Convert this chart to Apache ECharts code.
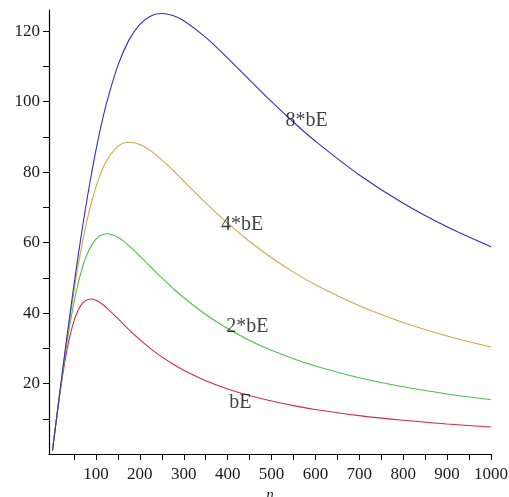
<!DOCTYPE html>
<html>
<head>
<meta charset="utf-8">
<script src="https://cdn.jsdelivr.net/npm/echarts@6/dist/echarts.min.js"></script>
<style>
  html, body { margin: 0; padding: 0; background: #fff; }
  #chart { width: 509px; height: 497px; }
</style>
</head>
<body>
<div id="chart"></div>
<script>
// Sample points along n
const nValues = [1, 10, 20, 30, 40, 50, 60, 70, 80, 90, 100, 110, 125, 150, 175, 200, 225, 250, 275, 300, 350, 400, 450, 500, 550, 600, 700, 800, 900, 1000];

// Curve values at each n
const bE   = [1, 9.87, 19.02, 26.88, 33.15, 37.80, 40.96, 42.87, 43.80, 43.99, 43.64, 42.93, 41.42, 38.41, 35.32, 32.44, 29.85, 27.56, 25.54, 23.77, 20.81, 18.47, 16.58, 15.02, 13.73, 12.63, 10.89, 9.56, 8.52, 7.68];
const bE2  = [1, 9.94, 19.50, 28.37, 36.28, 43.10, 48.77, 53.29, 56.75, 59.27, 60.98, 61.99, 62.50, 61.48, 59.12, 56.18, 53.07, 50.00, 47.09, 44.38, 39.59, 35.59, 32.23, 29.41, 27.01, 24.96, 21.63, 19.07, 17.03, 15.38];
const bE4  = [1, 9.97, 19.75, 29.16, 38.06, 46.30, 53.82, 60.53, 66.43, 71.51, 75.81, 79.35, 83.40, 87.30, 88.49, 87.84, 86.01, 83.47, 80.55, 77.46, 71.28, 65.50, 60.29, 55.68, 51.61, 48.04, 42.07, 37.33, 33.51, 30.38];
const bE8  = [1, 9.98, 19.87, 29.57, 39.00, 48.08, 56.73, 64.91, 72.57, 79.68, 86.21, 92.16, 100.00, 110.29, 117.45, 121.95, 124.31, 125.00, 124.43, 122.95, 118.24, 112.36, 106.13, 100.00, 94.18, 88.76, 79.19, 71.17, 64.47, 58.82];

// Curve names and where each name sits
const curveNames = ['bE', '2*bE', '4*bE', '8*bE'];
const labelAt = [[429, 14.5], [445, 36], [433, 65], [580, 94.6]];

// Axis tick marks and labels
const xTicks = [50, 100, 150, 200, 250, 300, 350, 400, 450, 500, 550, 600, 650, 700, 750, 800, 850, 900, 950, 1000];
const xLabels = [100, 200, 300, 400, 500, 600, 700, 800, 900, 1000];
const yTicks = [10, 20, 30, 40, 50, 60, 70, 80, 90, 100, 110, 120];
const yLabels = [20, 40, 60, 80, 100, 120];

const colors = ['#d42a44', '#4cc04c', '#cfa94a', '#2f2fc4'];
const seriesData = [bE, bE2, bE4, bE8];

const pair = arr => nValues.map((n, i) => [n, arr[i]]);
const serif = '"Liberation Serif", "DejaVu Serif", serif';

const chart = echarts.init(document.getElementById('chart'));

const series = seriesData.map((arr, k) => ({
  type: 'line',
  name: curveNames[k],
  data: pair(arr),
  smooth: 0.35,
  showSymbol: false,
  lineStyle: { width: 1.1, color: colors[k] },
  z: 2 + k
}));

series.push({
  type: 'scatter',
  data: labelAt.map((p, k) => ({ value: p, name: curveNames[k] })),
  symbolSize: 0,
  silent: true,
  z: 10,
  label: {
    show: true,
    position: 'inside',
    formatter: p => p.name,
    color: '#111',
    fontFamily: serif,
    fontSize: 20
  }
});

chart.setOption({
  animation: false,
  backgroundColor: '#fff',
  grid: { left: 49, right: 18, top: 10, bottom: 43, outerBoundsMode: 'none', containLabel: false },
  xAxis: {
    type: 'value',
    min: -7,
    max: 1000,
    name: 'n',
    nameLocation: 'middle',
    nameGap: 32,
    nameTextStyle: { fontFamily: serif, fontStyle: 'italic', fontSize: 15, color: '#222' },
    axisLine: { onZero: false, lineStyle: { color: '#000', width: 1.2 } },
    axisTick: { show: true, length: 6, customValues: xTicks, lineStyle: { color: '#000' } },
    axisLabel: { customValues: xLabels, margin: 12, fontFamily: serif, fontSize: 17, color: '#1a1a1a', formatter: v => String(v) },
    splitLine: { show: false }
  },
  yAxis: {
    type: 'value',
    min: 0,
    max: 126,
    axisLine: { show: true, onZero: false, lineStyle: { color: '#000', width: 1.2 } },
    axisTick: { show: true, length: 6, customValues: yTicks, lineStyle: { color: '#000' } },
    axisLabel: { customValues: yLabels, margin: 9, fontFamily: serif, fontSize: 17, color: '#1a1a1a', formatter: v => String(v) },
    splitLine: { show: false }
  },
  series: series
});
</script>
</body>
</html>
